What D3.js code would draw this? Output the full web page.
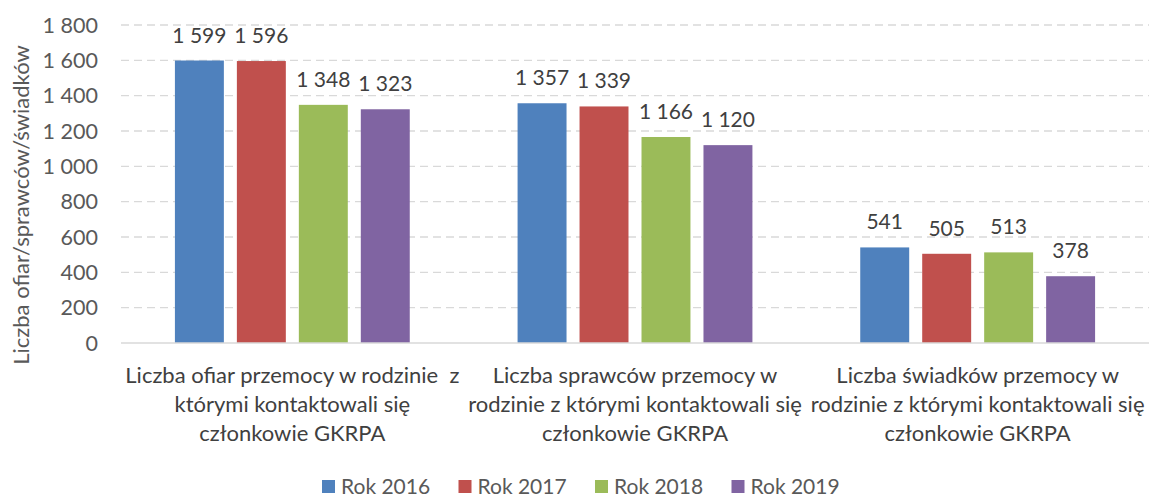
<!DOCTYPE html>
<html>
<head>
<meta charset="utf-8">
<script src="https://cdn.jsdelivr.net/npm/d3@7"></script>
<style>
  body { margin: 0; background: #fff; }
  svg { display: block; font-family: Lato, "Open Sans", sans-serif; }
  .cat { white-space: pre; }
</style>
</head>
<body>
<svg id="chart" width="1153" height="496"></svg>
<script>
const categories = ['ofiary', 'sprawcy', 'swiadkowie'];
const categoryLines = [
  ['Liczba ofiar przemocy w rodzinie  z', 'którymi kontaktowali się', 'członkowie GKRPA'],
  ['Liczba sprawców przemocy w', 'rodzinie z którymi kontaktowali się', 'członkowie GKRPA'],
  ['Liczba świadków przemocy w', 'rodzinie z którymi kontaktowali się', 'członkowie GKRPA']
];
const seriesNames = ['Rok 2016', 'Rok 2017', 'Rok 2018', 'Rok 2019'];
const values2016 = [1599, 1357, 541];
const values2017 = [1596, 1339, 505];
const values2018 = [1348, 1166, 513];
const values2019 = [1323, 1120, 378];
const yTicks = [0, 200, 400, 600, 800, 1000, 1200, 1400, 1600, 1800];
const COLORS = ['#4f81bd', '#c0504d', '#9bbb59', '#8064a2'];

const seriesValues = [values2016, values2017, values2018, values2019];
const fmt = v => d3.format(',')(v).replace(/,/g, ' ');

const svg = d3.select('#chart');
const plotLeft = 121, plotRight = 1149, plotTop = 25, plotBottom = 343;

const y = d3.scaleLinear().domain([0, 1800]).range([plotBottom, plotTop]);
const x0 = d3.scaleBand().domain(categories).range([plotLeft, plotRight]).padding(0);
const x1 = d3.scaleBand().domain(seriesNames).range([0, x0.bandwidth()])
  .paddingInner(0.21).paddingOuter(0.87);

// gridlines
svg.append('g').selectAll('line').data(yTicks.filter(d => d > 0)).join('line')
  .attr('x1', plotLeft).attr('x2', plotRight)
  .attr('y1', d => y(d)).attr('y2', d => y(d))
  .attr('stroke', '#d9d9d9').attr('stroke-width', 1.3).attr('stroke-dasharray', '8 5');

// y tick labels
svg.append('g').selectAll('text').data(yTicks).join('text')
  .attr('x', 98).attr('y', d => y(d)).attr('dy', '0.35em')
  .attr('text-anchor', 'end').attr('fill', '#595959').attr('font-size', '21.5px')
  .text(d => fmt(d));

// bars
const groups = svg.append('g').selectAll('g').data(categories).join('g')
  .attr('transform', d => `translate(${x0(d)},0)`);

groups.selectAll('rect').data((c, i) => seriesNames.map((s, k) => ({ s, k, v: seriesValues[k][i] })))
  .join('rect')
  .attr('x', d => x1(d.s)).attr('width', x1.bandwidth())
  .attr('y', d => y(d.v)).attr('height', d => plotBottom - y(d.v))
  .attr('fill', d => COLORS[d.k]);

groups.selectAll('text.val').data((c, i) => seriesNames.map((s, k) => ({ s, k, v: seriesValues[k][i] })))
  .join('text').attr('class', 'val')
  .attr('x', d => x1(d.s) + x1.bandwidth() / 2).attr('y', d => y(d.v) - 18)
  .attr('text-anchor', 'middle').attr('fill', '#404040').attr('font-size', '21px')
  .text(d => fmt(d.v));

// baseline
svg.append('line').attr('x1', plotLeft).attr('x2', plotRight).attr('y1', plotBottom).attr('y2', plotBottom)
  .attr('stroke', '#d9d9d9').attr('stroke-width', 1.3);

// category labels
categories.forEach((c, i) => {
  svg.append('text').attr('class', 'cat')
    .attr('x', x0(c) + x0.bandwidth() / 2).attr('y', 383)
    .attr('text-anchor', 'middle').attr('fill', '#404040').attr('font-size', '22px')
    .selectAll('tspan').data(categoryLines[i]).join('tspan')
    .attr('x', x0(c) + x0.bandwidth() / 2).attr('dy', (d, j) => j === 0 ? 0 : 29)
    .text(d => d);
});

// y axis title
svg.append('text')
  .attr('transform', `translate(29,205) rotate(-90)`)
  .attr('text-anchor', 'middle').attr('fill', '#595959').attr('font-size', '22px')
  .text('Liczba ofiar/sprawców/świadków');

// legend
const legend = svg.append('g').selectAll('g').data(seriesNames).join('g')
  .attr('transform', (d, i) => `translate(${322 + i * 136.5},480)`);
legend.append('rect').attr('width', 13).attr('height', 13).attr('fill', (d, i) => COLORS[i]);
legend.append('text').attr('x', 19).attr('y', 13.5)
  .attr('fill', '#595959').attr('font-size', '21px').text(d => d);
</script>
</body>
</html>
